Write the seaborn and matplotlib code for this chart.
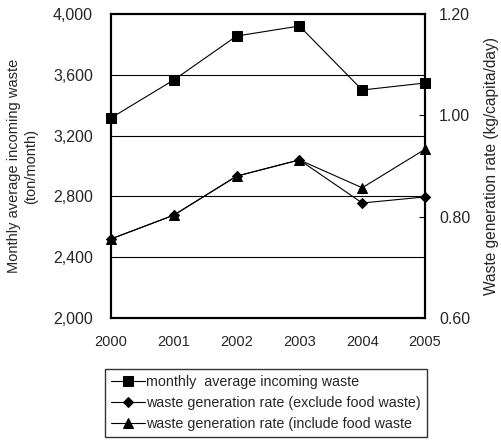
import matplotlib
matplotlib.use("Agg")
import matplotlib.pyplot as plt
import seaborn as sns
import pandas as pd

years = [2000, 2001, 2002, 2003, 2004, 2005]
monthly_waste = [3316, 3566, 3855, 3921, 3500, 3546]
rate_excl_food = [0.756, 0.803, 0.880, 0.912, 0.827, 0.839]
rate_incl_food = [0.756, 0.803, 0.880, 0.912, 0.857, 0.933]
left_ticks = [2000, 2400, 2800, 3200, 3600, 4000]
right_ticks = [0.60, 0.80, 1.00, 1.20]

labels = ["monthly  average incoming waste",
          "waste generation rate (exclude food waste)",
          "waste generation rate (include food waste"]

sns.set_style("white")
plt.rcParams['font.family'] = ['Liberation Sans', 'DejaVu Sans']

df = pd.DataFrame({"year": years, "waste": monthly_waste,
                   "excl": rate_excl_food, "incl": rate_incl_food})

fig = plt.figure(figsize=(5.01, 4.47), dpi=100)
ax = fig.add_axes([111/501, 1-318/447, (425-111)/501, (318-14)/447])
ax2 = ax.twinx()

sns.lineplot(data=df, x="year", y="waste", ax=ax, color="black", lw=0.8,
             marker="s", markersize=6.5, markeredgecolor="black", label=labels[0],
             legend=False, clip_on=False)
sns.lineplot(data=df, x="year", y="excl", ax=ax2, color="black", lw=0.8,
             marker="D", markersize=5, markeredgecolor="black", label=labels[1],
             legend=False, clip_on=False)
sns.lineplot(data=df, x="year", y="incl", ax=ax2, color="black", lw=0.8,
             marker="^", markersize=7, markeredgecolor="black", label=labels[2],
             legend=False, clip_on=False)

ax.set_xlim(2000, 2005)
ax.set_ylim(2000, 4000)
ax2.set_ylim(0.6, 1.2)
ax.set_yticks(left_ticks)
ax.set_yticklabels([f"{v:,}" for v in left_ticks], fontsize=11.5)
ax2.set_yticks(right_ticks)
ax2.set_yticklabels([f"{v:.2f}" for v in right_ticks], fontsize=11.5)
ax.set_xticks(years)
ax.set_xticklabels([str(y) for y in years], fontsize=10.5)

for y in left_ticks[1:-1]:
    ax.axhline(y, color="black", lw=0.8, zorder=0)

ax.tick_params(axis="x", direction="in", length=4, width=0.8, pad=12, color="black")
ax.tick_params(axis="y", direction="in", length=0, pad=13)
ax2.tick_params(axis="y", direction="in", length=4, width=0.8, pad=10, color="black")

for a in (ax, ax2):
    for s in a.spines.values():
        s.set_color("black")
        s.set_linewidth(1.5)

ax.set_xlabel("")
ax.set_ylabel("Monthly average incoming waste\n(ton/month)", fontsize=10.5, labelpad=11)
ax2.set_ylabel("Waste generation rate (kg/capita/day)", fontsize=11.2, labelpad=10)

handles = ax.get_lines()[:1] + ax2.get_lines()[:2]
leg = fig.legend(handles, labels, loc="upper left", bbox_to_anchor=(105/501, 1-369/447),
                 fontsize=10.3, frameon=True, fancybox=False, edgecolor="black",
                 handlelength=2.4, handletextpad=0.1, borderpad=0.4, labelspacing=0.5,
                 borderaxespad=0)
leg.get_frame().set_linewidth(1.0)

fig.savefig("out.png", dpi=100)
